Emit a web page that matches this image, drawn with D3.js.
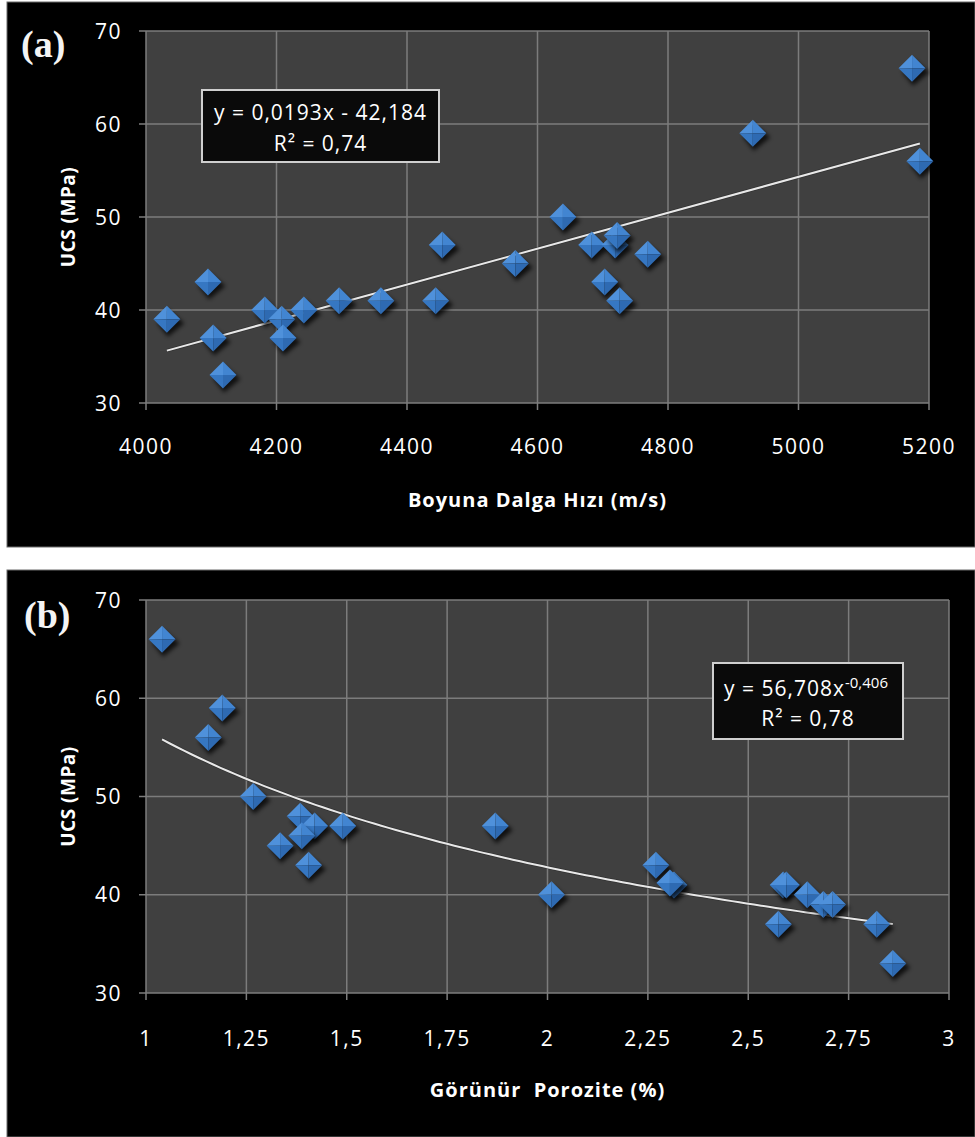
<!DOCTYPE html>
<html><head><meta charset="utf-8">
<script src="https://cdn.jsdelivr.net/npm/d3@7"></script>
<style>
html,body{margin:0;padding:0;background:#fff;}
svg{display:block;}
</style></head>
<body>
<svg id="c" width="975" height="1137"></svg>
<script>
// ---- Data: panel (a) ----
const velocityA = [4032,4095,4103,4118,4182,4208,4210,4242,4296,4360,4444,4454,4566,4639,4683,4719,4722,4703,4726,4769,4930,5174,5186];
const ucsA      = [39,  43,  37,  33,  40,  39,  37,  40,  41,  41,  41,  47,  45,  50,  47,  47,  48,  43,  41,  46,  59,  66,  56];
const xTicksA = [4000,4200,4400,4600,4800,5000,5200];
const yTicks = [30,40,50,60,70];
const fitA = {slope:0.0193, intercept:-42.184};
const eqA = ["y = 0,0193x - 42,184", "R² = 0,74"];

// ---- Data: panel (b) ----
const porosityB = [1.04,1.19,1.155,1.267,1.384,1.42,1.49,1.388,1.334,1.405,1.87,2.01,2.27,2.315,2.305,2.587,2.595,2.647,2.687,2.71,2.575,2.82,2.86];
const ucsB      = [66,  59,  56,   50,   48,   47,  47,  46,   45,   43,   47,  40,  43,  41,   41.2, 41,   41,   40,   39,   39,  37,   37,  33];
const xTicksB = [1,1.25,1.5,1.75,2,2.25,2.5,2.75,3];
const xTickLabelsB = ["1","1,25","1,5","1,75","2","2,25","2,5","2,75","3"];
const fitB = {coef:56.708, exp:-0.406};
const eqB = ["y = 56,708x", "-0,406", "R² = 0,78"];

const svg = d3.select("#c");
const defs = svg.append("defs");
const f = defs.append("filter").attr("id","sh").attr("x","-50%").attr("y","-50%").attr("width","200%").attr("height","200%");
f.append("feGaussianBlur").attr("stdDeviation",2.2);

const tickFont = "'Open Sans', sans-serif";

function panel(cfg){
  const g = svg.append("g");
  g.append("rect").attr("x",cfg.bx).attr("y",cfg.by).attr("width",cfg.bw).attr("height",cfg.bh)
    .attr("fill","#000").attr("stroke","#6a6a6a").attr("stroke-width",1);
  const x = d3.scaleLinear().domain(cfg.xDomain).range([cfg.x0,cfg.x1]);
  const y = d3.scaleLinear().domain([30,70]).range([cfg.y0,cfg.y1]);
  g.append("rect").attr("x",cfg.x0).attr("y",cfg.y1).attr("width",cfg.x1-cfg.x0).attr("height",cfg.y0-cfg.y1).attr("fill","#404040");
  g.append("g").selectAll("line").data(cfg.xTicks).join("line")
    .attr("x1",d=>x(d)).attr("x2",d=>x(d)).attr("y1",cfg.y1).attr("y2",cfg.y0+7)
    .attr("stroke","#7c7c7c").attr("stroke-width",1.5);
  g.append("g").selectAll("line").data(yTicks).join("line")
    .attr("x1",cfg.x0-7).attr("x2",cfg.x1).attr("y1",d=>y(d)).attr("y2",d=>y(d))
    .attr("stroke","#7c7c7c").attr("stroke-width",1.5);
  g.append("g").selectAll("text").data(yTicks).join("text")
    .attr("x",cfg.x0-24).attr("y",d=>y(d)).attr("dy","0.36em").attr("text-anchor","end")
    .attr("font-family",tickFont).attr("font-size",21).attr("letter-spacing","1.5px").attr("fill","#fff")
    .text(d=>d);
  g.append("g").selectAll("text").data(cfg.xTicks).join("text")
    .attr("x",d=>x(d)).attr("y",cfg.xLabelY).attr("dy","0.36em").attr("text-anchor","middle")
    .attr("font-family",tickFont).attr("font-size",21).attr("letter-spacing","1.5px").attr("fill","#fff")
    .text((d,i)=>cfg.xTickLabels[i]);
  g.append("text").attr("x",(cfg.x0+cfg.x1)/2).attr("y",cfg.xTitleY).attr("dy","0.36em").attr("text-anchor","middle")
    .attr("font-family",tickFont).attr("font-weight","bold").attr("font-size",20).attr("letter-spacing","1px").attr("fill","#fff")
    .attr("xml:space","preserve").style("white-space","pre")
    .text(cfg.xTitle);
  g.append("text").attr("transform",`translate(68,${(cfg.y0+cfg.y1)/2}) rotate(-90)`).attr("dy","0.36em").attr("text-anchor","middle")
    .attr("font-family",tickFont).attr("font-weight","bold").attr("font-size",19).attr("letter-spacing","0.5px").attr("fill","#fff")
    .text("UCS (MPa)");
  g.append("text").attr("x",cfg.lx).attr("y",cfg.ly)
    .attr("font-family","'Liberation Serif', 'Times New Roman', serif").attr("font-weight","bold").attr("font-size",38).attr("fill","#f4f4f4")
    .text(cfg.label);
  const line = d3.line().x(d=>x(d[0])).y(d=>y(d[1]));
  g.append("path").attr("d",line(cfg.trend)).attr("fill","none").attr("stroke","#222").attr("stroke-width",3.5).attr("opacity",0.5);
  g.append("path").attr("d",line(cfg.trend)).attr("fill","none").attr("stroke","#e8e8e8").attr("stroke-width",2);
  const pts = cfg.xs.map((v,i)=>[v,cfg.ys[i]]);
  const r = 13.5;
  const mk = g.append("g").selectAll("g").data(pts).join("g")
    .attr("transform",d=>`translate(${x(d[0])},${y(d[1])})`);
  mk.append("path").attr("d",`M0,${-r+3}L${r+3},3L0,${r+3}L${-r+3},3Z`).attr("fill","#000").attr("opacity",0.75).attr("filter","url(#sh)").attr("transform","translate(1,1)");
  mk.append("path").attr("d",`M0,${-r}L0,0L${-r},0Z`).attr("fill","#4f91db");
  mk.append("path").attr("d",`M0,${-r}L${r},0L0,0Z`).attr("fill","#4285d1");
  mk.append("path").attr("d",`M${-r},0L0,0L0,${r}Z`).attr("fill","#3677c2");
  mk.append("path").attr("d",`M${r},0L0,${r}L0,0Z`).attr("fill","#2e6ab2");
  g.append("rect").attr("x",cfg.ex).attr("y",cfg.ey).attr("width",cfg.ew).attr("height",cfg.eh)
    .attr("fill","#0a0a0a").attr("stroke","#cfcfcf").attr("stroke-width",2);
  return {g,x,y};
}

const A = panel({bx:7,by:2,bw:968,bh:545,x0:146,x1:929,y0:403,y1:31,xDomain:[4000,5200],
  xTicks:xTicksA,xTickLabels:xTicksA.map(String),xLabelY:446,xTitleY:500,xTitle:"Boyuna Dalga Hızı (m/s)",
  label:"(a)",lx:21,ly:57,
  trend:[d3.min(velocityA),d3.max(velocityA)].map(v=>[v,fitA.slope*v+fitA.intercept]),
  xs:velocityA,ys:ucsA,ex:202,ey:90,ew:237,eh:72});
A.g.append("text").attr("x",320.5).attr("y",112).attr("dy","0.36em").attr("text-anchor","middle")
  .attr("font-family",tickFont).attr("font-size",21).attr("letter-spacing","1px").attr("fill","#fff").attr("xml:space","preserve").text(eqA[0]);
A.g.append("text").attr("x",320.5).attr("y",143).attr("dy","0.36em").attr("text-anchor","middle")
  .attr("font-family",tickFont).attr("font-size",21).attr("letter-spacing","1px").attr("fill","#fff").text(eqA[1]);

const bPts = d3.range(0,101).map(i=>{const lo=d3.min(porosityB),hi=d3.max(porosityB);return lo+(hi-lo)*i/100;});
const B = panel({bx:7,by:570,bw:968,bh:567,x0:146,x1:949,y0:993,y1:600,xDomain:[1,3],
  xTicks:xTicksB,xTickLabels:xTickLabelsB,xLabelY:1038,xTitleY:1090,xTitle:"Görünür  Porozite (%)",
  label:"(b)",lx:24,ly:628,
  trend:bPts.map(v=>[v,fitB.coef*Math.pow(v,fitB.exp)]),
  xs:porosityB,ys:ucsB,ex:713,ey:663,ew:190,eh:76});
const t1 = B.g.append("text").attr("x",806).attr("y",688).attr("dy","0.36em").attr("text-anchor","middle")
  .attr("font-family",tickFont).attr("font-size",21).attr("letter-spacing","1px").attr("fill","#fff");
t1.append("tspan").text(eqB[0]);
t1.append("tspan").attr("dy","-0.5em").attr("font-size",15).attr("letter-spacing","0px").text(eqB[1]);
B.g.append("text").attr("x",808).attr("y",718).attr("dy","0.36em").attr("text-anchor","middle")
  .attr("font-family",tickFont).attr("font-size",21).attr("letter-spacing","1px").attr("fill","#fff").text(eqB[2]);
</script>
</body></html>
